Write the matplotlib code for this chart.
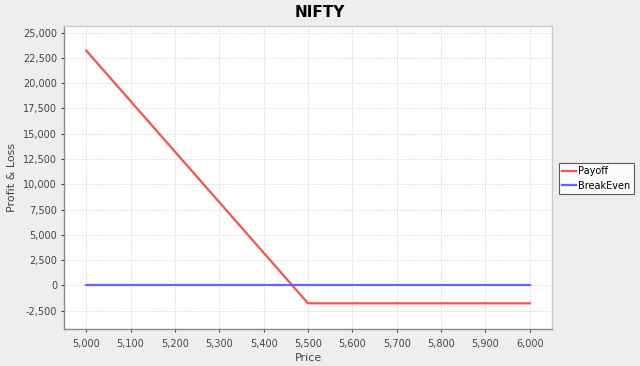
import numpy as np
import matplotlib.pyplot as plt
from matplotlib.ticker import FuncFormatter, MultipleLocator

# strike prices on the x axis
price = [5000, 5100, 5200, 5300, 5400, 5500, 5600, 5700, 5800, 5900, 6000]
payoff = [23235, 18235, 13235, 8235, 3235, -1765, -1765, -1765, -1765, -1765, -1765]
breakeven = [0, 0, 0, 0, 0, 0, 0, 0, 0, 0, 0]

fig = plt.figure(figsize=(6.4, 3.66), dpi=100, facecolor='#eeeeee')
ax = fig.add_axes([0.1, 0.101, 0.7625, 0.828])
ax.set_facecolor('white')

ax.plot(price, payoff, color='#ff5050', lw=1.6, label='Payoff')
ax.plot(price, breakeven, color='#6464ff', lw=1.6, label='BreakEven')

ax.set_xlim(4950, 6050)
ax.set_ylim(-4310, 25660)
ax.xaxis.set_major_locator(MultipleLocator(100))
ax.yaxis.set_major_locator(MultipleLocator(2500))
ax.xaxis.set_major_formatter(FuncFormatter(lambda v, p: f'{int(v):,}'))
ax.yaxis.set_major_formatter(FuncFormatter(lambda v, p: f'{int(v):,}'))
ax.tick_params(labelsize=7, colors='#444444', length=2, width=0.8, pad=3)
ax.tick_params(axis='x', pad=5)
ax.grid(True, color='#dadada', ls=(0, (1.5, 1.5)), lw=0.7)
ax.set_axisbelow(True)

for s in ['left', 'bottom']:
    ax.spines[s].set_color('#888888')
    ax.spines[s].set_linewidth(1.0)
for s in ['top', 'right']:
    ax.spines[s].set_color('#cccccc')
    ax.spines[s].set_linewidth(1.0)

ax.set_xlabel('Price', fontsize=8, color='#444444', labelpad=3)
ax.set_ylabel('Profit & Loss', fontsize=8, color='#444444', labelpad=4)

fig.text(0.5, 0.965, 'NIFTY', ha='center', va='center', fontsize=11, fontweight='bold')

leg = fig.legend(loc='center left', bbox_to_anchor=(0.873, 0.512), fontsize=7,
                 frameon=True, fancybox=False, handlelength=1.4, handletextpad=0.25,
                 borderpad=0.35, labelspacing=0.45, borderaxespad=0)
leg.get_frame().set_edgecolor('#333333')
leg.get_frame().set_linewidth(0.8)

plt.savefig('out.png', dpi=100, facecolor=fig.get_facecolor())
